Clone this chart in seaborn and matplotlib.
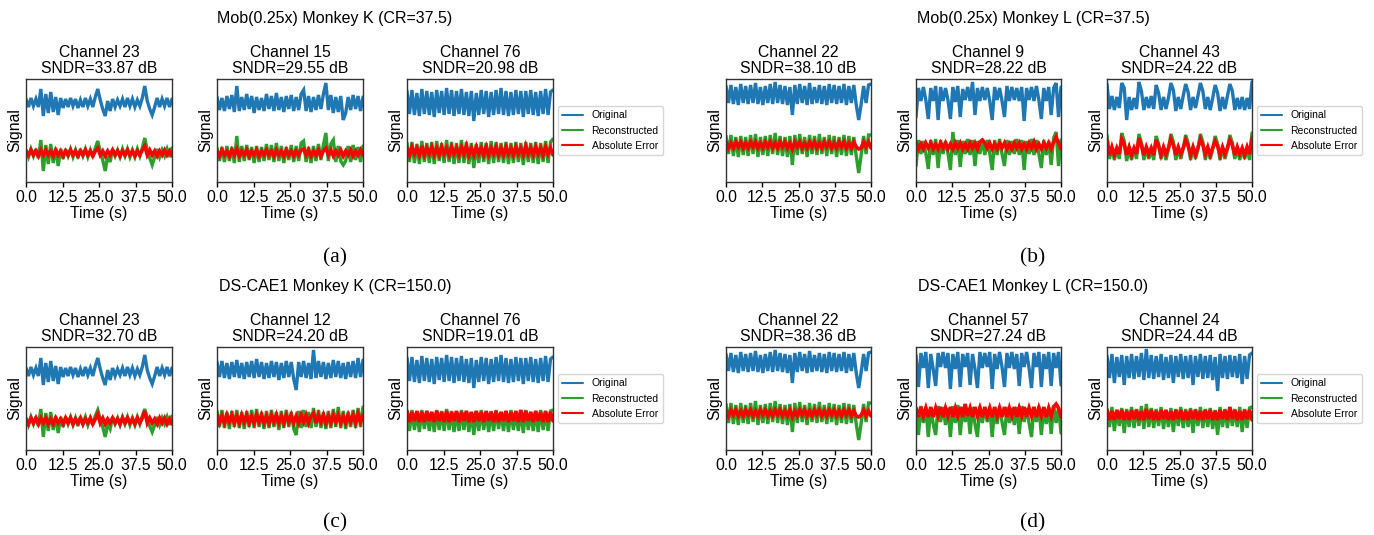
import numpy as np
import matplotlib
matplotlib.use("Agg")
import matplotlib.pyplot as plt
import seaborn as sns

# ---------------- data (pixel-like signal units) ----------------
TIME_MAX = 50.0
XTICKS = [0.0, 12.5, 25.0, 37.5, 50.0]

GROUP_TITLES = ["Mob(0.25x) Monkey K (CR=37.5)", "Mob(0.25x) Monkey L (CR=37.5)",
                "DS-CAE1 Monkey K (CR=150.0)", "DS-CAE1 Monkey L (CR=150.0)"]
CAPTIONS = ["(a)", "(b)", "(c)", "(d)"]
CHANNELS = [[23, 15, 76], [22, 9, 43], [23, 12, 76], [22, 57, 24]]
SNDR = [[33.87, 29.55, 20.98], [38.10, 28.22, 24.22],
        [32.70, 24.20, 19.01], [38.36, 27.24, 24.44]]
SERIES_NAMES = ["Original", "Reconstructed", "Absolute Error"]

# original signals
orig_k23 = [4,-4,5,-3,4,-4, 14,-13,9,-10,11,-9,6,-12,5,-5, 4,-4,5,-3,4,-5,3,-4,5,-3,4,-4,6,
            14,3,-6,-13,2,-8, 4,-4,3,-3,4,-4,5,-3,4,-4,3,-3,5, 17,2,-6,-12,-4, 5,-4,4,-3,5,-4,4]
orig_k15 = [6,-7,5,-8,7,-6,8,-9,17,-8,6,-7,9,-6,7,-10,6,-7,5,-8,9,-6,7,-8,10,-7,6,-9,7,-6,
            8,-8,6,-7,9,13,-8,7,-9,6,-7,8,-6,9,20,-7,8,-10,6,-9,7,-17,-10,6,-7,8,-6,7,-8,6]
orig_k76 = [12,-11,13,-12,10,-13,14,-11,12,-12, 11,-14,13,-10,12,-12,15,-11,13,-13,
            12,-11,14,-12,11,-13,12,-18,10,-12, 13,-11,12,-14,11,-12,13,-11,15,-12,
            12,-13,11,-12,13,-11,12,-14,12,-11, 13,-12,11,-13,12,-11,14,-12,11,13]
orig_l22 = [9,-8,10,-9,8,-10,11,-8,9,-9, 10,-8,12,-9,8,-10,9,-8,11,-9,
            13,-8,10,-9,9,-10,8,-20,10,-9, 11,-8,9,-10,12,-9,8,-8,10,-9,
            9,-10,11,-8,10,-9,9,-8,11,-10, 9,-8,10,-10,-25,-9,9,-8,10,11]
orig_l9 = [-22,7,-6,8,-5,-24,7,-6,9,-25, 8,-6,7,-5,-24,8,-7,9,-22,6,
           -5,8,-6,13,-20,7,-6,8,-5,7, -6,-25,8,-5,7,-6,-22,9,-6,8,
           -5,7,-6,8,-26,7,-5,8,-6,9, -5,-24,7,-6,8,-20,7,12,-22,8]
orig_l43 = [19,-6,7,-7,6,-5,20,15,-17,6, -7,5,-6,21,12,-7,6,-5,7,-6,
            18,10,-7,6,-6,5,20,13,-8,6, -6,7,19,11,-7,6,-5,7,20,12,
            -6,6,-7,5,18,10,-8,6,-6,7, 19,12,-7,5,-6,6,-7,5,-6,21]
orig_k12 = [8,-7,9,-8,7,-9,8,-7,10,-8, 7,-9,8,-7,9,-8,11,-7,8,-9,
            7,-8,9,-7,8,-10,7,-8,9,-7, 8,-9,-20,8,-7,9,-8,7,-9,20,
            -8,9,-7,8,-9,7,-8,10,-7,9, -8,7,-9,8,-7,9,-8,12,-7,10]
orig_l57 = [6,-26,8,-7,9,-27,7,-8,-25,8, -6,9,-7,8,-28,7,-8,9,-26,7,
            -6,8,-24,7,-8,-27,9,-7,8,-6, 9,-28,7,-8,9,-6,-26,8,-7,9,
            -8,7,-25,8,-6,9,-7,-27,8,-6, 9,-26,7,-8,9,-25,8,-7,9,-24]
orig_l24 = [12,-10,14,-15,11,-9,13,-17,12,-10, 14,-11,12,-9,15,-12,19,-10,13,-11,
            12,-9,14,-12,11,-10,13,-15,12,-9, 14,-11,12,-10,13,-17,12,-9,14,-11,
            12,-10,13,-12,11,-23,14,-10,12,-11, 13,-9,12,-10,14,-16,12,-11,13,15]

# reconstructed signals
recon_a1 = [3,-4,4,-3,4,-5, 13,-18,8,-11,9,-10,5,-13,4,-6, 4,-3,4,-4,3,-5,4,-3,4,-4,3,-4,5,
            12,2,-7,-18,-3,-9, 4,-3,3,-4,4,-3,4,-4,3,-4,4,-3,5, 15,3,-5,-12,-4, 4,-4,3,-3,4,-4,5]
recon_a2 = [5,-8,6,-9,7,-8,6,-10,17,-9,7,-8,8,-7,6,-10,7,-9,6,-8,9,-7,8,-9,10,-8,7,-10,6,-7,
            8,-9,7,-8,10,12,-9,6,-10,7,-8,9,-7,8,20,-8,9,13,-9,7,-8,-12,-8,7,-9,8,-7,6,-9,7]
recon_a3 = [8,-11,9,-12,7,-13,10,-11,8,-12, 9,-13,10,-10,8,-12,11,-11,9,-13,
            8,-12,11,-12,9,-13,8,-17,7,-12, 9,-11,8,-13,10,-12,9,-11,8,-12,
            9,-13,8,-12,9,-11,8,-14,9,-11, 8,-12,9,-13,8,-11,10,-12,9,12]
recon_b1 = [9,-9,10,-11,8,-12,9,-10,8,-11, 10,-9,11,-12,8,-10,9,-11,10,-9,
            12,-10,9,-11,8,-12,9,-20,10,-10, 11,-9,8,-12,10,-9,9,-10,11,-9,
            8,-11,10,-9,9,-12,8,-10,10,-11, 9,-10,8,-11,-28,-10,9,-9,10,10]
recon_b2 = [-20,6,-8,5,-7,-23,6,-9,7,-22, 6,-8,5,-7,-24,14,-9,6,-21,5,
            -8,7,-9,6,-20,5,-8,7,-9,6, -7,-24,6,-9,7,-8,-20,6,-9,5,
            -8,7,-9,6,-24,5,-8,7,-9,6, -8,-22,6,-9,5,-19,8,14,-20,6]
recon_b3 = [18,-6,5,-7,4,-6,20,12,-8,4, -7,5,-6,19,10,-7,5,-6,4,-7,
            17,9,-6,5,-7,4,19,11,-7,5, -6,4,18,10,-7,5,-6,4,19,11,
            -7,5,-6,4,17,9,-7,5,-6,4, 18,10,-6,5,-7,4,-6,5,-7,20]
recon_c1 = [3,-4,4,-3,4,-5, 12,-16,8,-10,9,-9,5,-12,4,-6, 4,-3,4,-4,3,-5,4,-3,4,-4,3,-4,5,
            11,2,-6,-16,-3,-8, 4,-3,3,-4,4,-3,4,-4,3,-4,4,-3,5, 12,3,-5,-11,-4, 4,-4,3,-3,4,-4,5]
recon_c2 = [8,-8,9,-9,7,-10,8,-8,9,-9, 7,-10,8,-8,9,-9,10,-8,7,-10,
            8,-9,9,-8,7,-11,8,-9,9,-8, 7,-10,-16,8,-9,9,-8,7,-9,11,
            -8,9,-9,7,-10,8,-9,10,-8,12, -9,8,-10,7,-8,9,-9,11,-8,12]
recon_c3 = [6,-14,7,-13,5,-15,7,-12,6,-14, 5,-15,7,-13,6,-14,8,-13,6,-15,
            5,-14,7,-13,6,-15,5,-18,6,-14, 7,-13,5,-15,6,-14,7,-12,5,-14,
            6,-15,7,-13,5,-14,6,-16,7,-13, 5,-14,6,-15,7,-13,5,-14,6,7]
recon_d1 = [9,-10,10,-11,8,-12,10,-10,8,-11, 10,-9,12,-12,8,-10,9,-11,10,-9,
            12,-10,9,-11,8,-12,9,-19,10,-10, 11,-9,8,-12,10,-9,9,-10,11,-9,
            8,-11,10,-9,9,-12,8,-10,10,-11, 9,-10,8,-11,-27,-10,9,-9,10,10]
recon_d2 = [5,-22,7,-10,6,-24,5,-11,-22,7, -9,6,-12,5,-24,7,-10,8,-22,6,
            -9,5,-21,6,-11,-24,7,-10,5,-9, 6,-24,5,-11,7,-9,-22,6,-10,5,
            -12,6,-21,7,-9,5,-10,-24,6,-9, 7,-22,5,-11,6,-21,8,-10,5,-20]
recon_d3 = [6,-12,8,-16,5,-11,7,-18,6,-12, 8,-13,6,-11,9,-14,11,-12,7,-13,
            6,-11,8,-14,5,-12,7,-17,6,-11, 8,-13,6,-12,7,-18,6,-11,8,-13,
            6,-12,7,-14,5,-20,8,-12,6,-13, 7,-11,6,-12,8,-17,6,-13,7,8]

# absolute error traces
err_a1 = [2,-2,3,-2,2,-3, 3,-2,3,-2,2,-3,3,-2,2,-3, 2,-2,3,-2,2,-3,2,-2,3,-2,2,-3,2,
          5,-2,2,-3,2,-2, 3,-2,2,-3,2,-2,3,-2,2,-3,2,-2,3, 7,-2,3,-2,2, -3,2,-2,3,-2,2,-3]
err_a2 = [2,-3,3,-2,2,-3,3,-2,4,-3, 2,-2,3,-3,2,-2,3,-3,2,-2, 3,-2,2,-3,3,-2,2,-3,3,-2,
          2,-3,2,-2,3,4,-2,3,-3,2, -2,3,-3,2,5,-2,3,-3,2,-2, 3,-3,2,-2,3,-3,2,-2,3,-2]
err_a3 = [3,-4,4,-3,3,-4,5,-4,3,-3, 4,-4,3,-4,4,-3,3,-4,4,-3, 3,-4,4,-3,5,-4,3,-4,4,-3,
          3,-4,4,-4,3,-3,4,-4,3,-4, 4,-3,3,-4,4,-3,3,-4,5,-3, 3,-4,4,-3,3,-4,4,-3,3,-4]
err_b1 = [3,-3,2,-3,3,-2,3,-3,2,-3, 3,-2,3,-3,2,-3,3,-2,3,-3, 2,-3,3,-2,3,-3,2,-4,3,-2,
          3,-3,2,-3,3,-2,3,-3,2,-3, 3,-2,3,-3,2,-3,3,-2,3,-3, 2,-3,3,-2,-4,-3,3,-2,3,-3]
err_b2 = [3,-3,2,-3,3,-2,3,-3,2,-3, 3,-2,3,-3,2,-3,3,-2,3,-3, 2,-3,3,-2,3,-3,4,6,3,-2,
          3,-3,2,-3,3,-2,3,-3,2,-3, 3,-2,3,-3,2,-3,3,-2,4,-3, 2,-3,3,-2,3,-3,4,9,3,-3]
err_b3 = [13,-2,6,-2,5,-1,14,9,-2,6, -2,5,-1,15,8,-2,6,-1,5,-2, 13,7,-2,6,-1,5,14,8,-2,6,
          -1,5,13,7,-2,6,-2,5,14,8, -1,6,-2,5,12,7,-2,6,-1,5, 13,8,-2,6,-1,5,-2,6,-1,15]
err_c1 = [2,-3,3,-2,3,-3, 3,-2,3,-3,2,-3,3,-2,2,-3, 3,-2,3,-3,2,-2,3,-3,2,-2,3,-3,2,
          7,-2,3,-3,2,-2, 3,-2,2,-3,3,-2,3,-2,2,-3,3,-2,3, 10,-2,3,-2,2, -3,3,-2,3,-3,2,-3]
err_c2 = [4,-4,3,-4,4,-3,4,-4,3,-4, 4,-3,4,-4,3,-4,4,-3,4,-4, 3,-4,4,-3,4,-4,3,-4,4,-3,
          4,-4,3,-4,4,-3,4,-4,3,6, -4,4,-3,4,-4,3,-4,4,-3,4, -4,3,-4,4,-3,4,-4,5,-3,4]
err_c3 = [6,-5,5,-4,6,-5,5,-5,6,-4, 5,-5,6,-4,5,-5,6,-5,5,-4, 6,-5,5,-4,6,-5,5,-5,6,-4,
          5,-5,6,-4,5,-5,6,-5,5,-4, 6,-5,5,-4,6,-5,7,-5,6,-4, 5,-5,6,-4,5,-5,6,-5,5,-4]
err_d1 = [3,-3,3,-2,3,-3,2,-3,3,-2, 3,-3,2,-3,3,-2,3,-3,2,-3, 3,-2,3,-3,2,-3,3,-4,2,-3,
          3,-2,3,-3,2,-3,3,-2,3,-3, 2,-3,3,-2,3,-3,2,-3,3,-2, 3,-3,2,-3,-4,-2,3,-3,2,-3]
err_d2 = [5,-4,6,-3,5,-4,6,-4,5,-3, 6,-4,5,-3,6,-4,5,-3,6,-4, 9,-3,5,-4,6,-3,5,-4,6,-3,
          5,-4,6,-3,5,-4,6,-4,5,-3, 6,-4,5,-3,6,-4,5,-3,6,-4, 5,-3,6,-4,5,-3,6,9,5,-4]
err_d3 = [5,-5,4,-5,5,-4,5,-5,4,-5, 5,-4,5,-5,4,-5,6,-4,5,-5, 4,-5,5,-4,5,-5,4,-5,5,-4,
          5,-5,4,-5,5,-4,5,-5,4,-5, 5,-4,5,-5,4,-5,5,-4,5,-5, 8,-4,5,-5,4,-5,5,-4,5,-5]

PANEL_DATA = [
    [(orig_k23, recon_a1, err_a1), (orig_k15, recon_a2, err_a2), (orig_k76, recon_a3, err_a3)],
    [(orig_l22, recon_b1, err_b1), (orig_l9, recon_b2, err_b2), (orig_l43, recon_b3, err_b3)],
    [(orig_k23, recon_c1, err_c1), (orig_k12, recon_c2, err_c2), (orig_k76, recon_c3, err_c3)],
    [(orig_l22, recon_d1, err_d1), (orig_l57, recon_d2, err_d2), (orig_l24, recon_d3, err_d3)],
]

# ---------------- layout / style ----------------
COLORS = ["#1f77b4", "#2ca02c", "#ff0000"]
# per panel: (baseline px above axes bottom, display offset of original trace)
VIEW = [[(29, 50), (29, 50), (31, 48)],
        [(37, 50), (36, 51), (29, 50)],
        [(29, 49), (31, 49), (33, 47)],
        [(37, 50), (37, 52), (35, 47)]]

sns.set_style("ticks", {"axes.edgecolor": "0.2", "text.color": "black",
                        "axes.labelcolor": "black", "xtick.color": "black"})
plt.rcParams["font.family"] = ["Liberation Sans", "DejaVu Sans"]

W, H = 1374, 535
fig = plt.figure(figsize=(W / 100, H / 100), dpi=100)

def add_ax(x, y, w, h):
    return fig.add_axes([x / W, 1 - (y + h) / H, w / W, h / H])

FS = 11.3
AX_H = 103
LEFTS = [[26, 217, 407], [726, 916, 1107]]
WIDTHS = [146, 145]
TITLE_X = [335, 1033]

for g in range(4):
    row, col = g // 2, g % 2
    top = 79 + 268 * row
    for p in range(3):
        ax = add_ax(LEFTS[col][p], top, WIDTHS[col], AX_H)
        base, off = VIEW[g][p]
        orig, recon, err = PANEL_DATA[g][p]
        series = [np.array(orig) + off, np.array(recon), np.array(err)]
        lws = [2.4, 2.4, 2.6]
        for name, vals, c, lw in zip(SERIES_NAMES, series, COLORS, lws):
            t = np.linspace(0, TIME_MAX, len(vals))
            sns.lineplot(x=t, y=vals, ax=ax, color=c, lw=lw, label=name,
                         legend=False, sort=False, solid_joinstyle="miter")
        ax.set_xlim(0, TIME_MAX)
        ax.set_ylim(-base, AX_H - base)
        ax.set_xticks(XTICKS)
        ax.set_xticklabels([f"{v:.1f}" for v in XTICKS])
        ax.set_yticks([])
        ax.tick_params(axis="x", labelsize=FS, length=3.5, width=1, pad=2)
        ax.set_xlabel("Time (s)", fontsize=FS, labelpad=1)
        ax.set_ylabel("Signal", fontsize=FS, labelpad=3)
        ax.set_title(f"Channel {CHANNELS[g][p]}\nSNDR={SNDR[g][p]:.2f} dB",
                     fontsize=FS, pad=4.5, linespacing=1.1)
        for s in ax.spines.values():
            s.set_visible(True)
            s.set_linewidth(1.0)
        if p == 2:
            leg = ax.legend(loc="center left", bbox_to_anchor=(1.0, 0.5),
                            fontsize=7.5, frameon=True, handlelength=2.0)
            for h in leg.get_lines():
                h.set_linewidth(1.5)
    fig.text(TITLE_X[col] / W, 1 - (18 + 268 * row) / H, GROUP_TITLES[g],
             ha="center", va="center", fontsize=11.5)
    fig.text(TITLE_X[col] / W, 1 - (258 + 265 * row) / H, CAPTIONS[g],
             ha="center", va="center", fontsize=15.5, family="Liberation Serif")

fig.savefig("out.png", dpi=100)
